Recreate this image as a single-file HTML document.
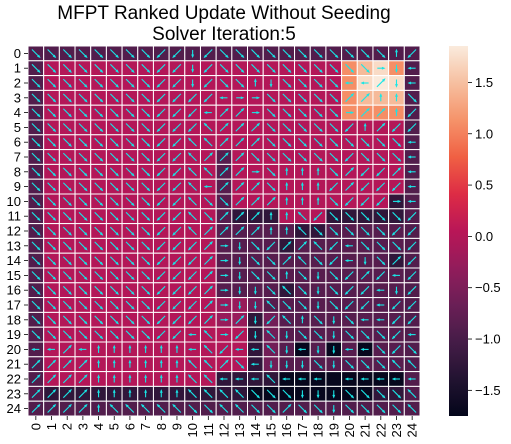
<!DOCTYPE html>
<html><head><meta charset="utf-8"><style>
html,body{margin:0;padding:0;background:#fff;}
svg{display:block;font-family:"Liberation Sans","DejaVu Sans",sans-serif;}
</style></head><body>
<svg id="chart" width="511" height="444">
<text x="224" y="19" font-size="19" text-anchor="middle">MFPT Ranked Update Without Seeding</text>
<text x="224" y="40" font-size="19" text-anchor="middle">Solver Iteration:5</text>
<g id="cells"></g>
<g id="arrows"></g>
<g id="yticks"></g>
<g id="xticks"></g>
<g id="cbar"></g>
</svg>
<script>
// value codes per cell (rows 0..24)
const valueRows = [
"DDDDDDDDDDDDDDDDDDDDDDDDD",
"DMMMMMMMMMMMMMMMMMMMOPLOD",
"DMMMMMMMMMMMMMMMMMMMOLWLD",
"DMMMMMMMMMMMMMMMMMMMOPPPD",
"DMMMMMMMMMMMMMMMMMMMOOOOD",
"DMMMMMMMMMMMMMMMMMMMMMMMD",
"DMMMMMMMMMMMMMMMMMMMMMMMD",
"DMMMMMMMMMMMpMMMMMMMMMMMD",
"DMMMMMMMMMMMpMMMMMMMMMMMD",
"DMMMMMMMMMMMpMMMMMMMMMMMD",
"DMMMMMMMMMMMpMMMMMMMMMMdD",
"DMMMMMMMMMMMpdddMMMdddddD",
"DMMMMMMMMMMMpppppddpppppD",
"DMMMMMMMMMMMppppdpppppppD",
"DMMMMMMMMMMMpppppppppppdD",
"DMMMMMMMMMMMppppppppppppD",
"DMMMMMMMMMMMppppdpppppppD",
"DMMMMMMMMMMMmmqpppppppppD",
"DMMMMMMMMMMMmmdqppppppppD",
"DMMMMMMMMMMMMMdqppppppppD",
"DMMMMMMMMMMMMMdqpKpKpKppD",
"DMMMMMMMMMMMMMdqppppppppD",
"DMMMMMMMMMMMddddKKKKKKKKD",
"DdddddddddddddKKKKKKKKddD",
"DDDDDDDDDDDDDDDDDDDDDDDDD"
];
const valueCodes = {D:-0.9,d:-1.25,K:-1.7,p:-0.85,q:-0.6,m:-0.25,M:0.0,O:1.1,P:1.45,L:1.72,W:1.85};
// arrow directions, numpad style (8 up, 2 down, 4 left, 6 right, 7/9/1/3 diagonals, 0 none)
const dirRows = [
"3333333311213333333333381",
"3333333311213333333333624",
"3333333311213382333344924",
"3333333311114663333399883",
"3333333311149963333369981",
"3333333311179993333318911",
"3333333311779993333333334",
"3333333311799933333313334",
"3333333311779963888391194",
"3333333311749993888191114",
"3333333311733999888311164",
"3333333311739998871333331",
"3333333311799998873333311",
"3333333311196231997143331",
"3333333311196233973142391",
"3333333311196233832319141",
"3333333311196223732311421",
"3333333311196227332311411",
"3333333311196921783234411",
"3333333311476127233233314",
"4494888888471447242244313",
"9999888888779342223233377",
"9999888888774447444044444",
"9999888888777733322233337",
"9999877777337733933233337"
];
const cbTicks = [1.5,1.0,0.5,0.0,-0.5,-1.0,-1.5];
const vmin=-1.75, vmax=1.855;
const X0=28, Y0=46, W=392, H=370, N=25, cw=W/N, ch=H/N;
const stops=[[0,"#03051a"],[0.1,"#221331"],[0.2,"#451c47"],[0.3,"#6a1f56"],[0.4,"#921c5b"],[0.5,"#b91657"],[0.6,"#dd2c45"],[0.7,"#f06043"],[0.8,"#f5936a"],[0.9,"#f6bfa0"],[1,"#faebdd"]];
function hex(h){return [1,3,5].map(i=>parseInt(h.substr(i,2),16));}
function color(v){let t=(v-vmin)/(vmax-vmin);t=Math.max(0,Math.min(1,t));
 for(let i=1;i<stops.length;i++){if(t<=stops[i][0]){const a=stops[i-1],b=stops[i];const f=(t-a[0])/(b[0]-a[0]);const ca=hex(a[1]),cb=hex(b[1]);return "rgb("+ca.map((c,k)=>Math.round(c+(cb[k]-c)*f)).join(",")+")";}}return stops[10][1];}
const xs=c=>X0+c*cw, ys=r=>Y0+r*ch;
const NS="http://www.w3.org/2000/svg";
function mk(t,a,p){const e=document.createElementNS(NS,t);for(const k in a)e.setAttribute(k,a[k]);p.appendChild(e);return e;}
const gC=document.getElementById('cells'),gA=document.getElementById('arrows');
const dv={"8":[0,-1],"2":[0,1],"4":[-1,0],"6":[1,0],"7":[-1,-1],"9":[1,-1],"1":[-1,1],"3":[1,1]};
for(let r=0;r<N;r++){const vr=valueRows[r],dr=dirRows[r];
 for(let c=0;c<N;c++){const code=(c===N-1)?vr[vr.length-1]:vr[Math.min(c,vr.length-1)];const v=valueCodes[code]??-0.85;
  const rc=mk('rect',{x:xs(c),y:ys(r),width:cw,height:ch,fill:color(v),stroke:"#fff","stroke-width":1},gC);
  
  
  const d=dv[dr[c]];if(!d)continue;
  const cx=xs(c)+cw/2,cy=ys(r)+ch/2;let ux=d[0],uy=d[1];const L=Math.hypot(ux,uy);ux/=L;uy/=L;
  const len=dr[c]=="8"||dr[c]=="2"||dr[c]=="4"||dr[c]=="6"?7:11;
  const x1=cx-ux*len/2,y1=cy-uy*len/2,x2=cx+ux*len/2,y2=cy+uy*len/2;
  const g=mk('g',{},gA);
  
  
  mk('line',{x1:x1,y1:y1,x2:x2,y2:y2,stroke:"#19e6e6","stroke-width":1.1},g);
  const px=-uy,py=ux,hs=2.4;
  mk('polygon',{points:`${x2+ux*1.2},${y2+uy*1.2} ${x2-ux*hs+px*hs*0.6},${y2-uy*hs+py*hs*0.6} ${x2-ux*hs-px*hs*0.6},${y2-uy*hs-py*hs*0.6}`,fill:"#19e6e6"},g);
 }}
const gY=document.getElementById('yticks'),gX=document.getElementById('xticks');
for(let i=0;i<N;i++){
 const y=ys(i)+ch/2;
 mk('line',{x1:X0-4,y1:y,x2:X0,y2:y,stroke:"#000","stroke-width":0.8},gY);
 const t=mk('text',{x:X0-7,y:y+4.5,"font-size":13,"text-anchor":"end"},gY);t.textContent=i;
 
 
 const x=xs(i)+cw/2;
 mk('line',{x1:x,y1:Y0+H,x2:x,y2:Y0+H+4,stroke:"#000","stroke-width":0.8},gX);
 const tx=mk('text',{x:x+4.5,y:Y0+H+7,"font-size":13,"text-anchor":"end",transform:`rotate(-90 ${x+4.5} ${Y0+H+7})`},gX);tx.textContent=i;
 
 
}
const gB=document.getElementById('cbar');const CX=449,CW=19,CT=46,CB=416;
const defs=mk('defs',{},gB);const lg=mk('linearGradient',{id:"cg",x1:0,y1:1,x2:0,y2:0},defs);
for(let i=0;i<=40;i++){const t=i/40;mk('stop',{offset:t,"stop-color":color(vmin+t*(vmax-vmin))},lg);}
const cbr=mk('rect',{x:CX,y:CT,width:CW,height:CB-CT,fill:"url(#cg)"},gB);


const cy=v=>CB-(v-vmin)/(vmax-vmin)*(CB-CT);
cbTicks.forEach(v=>{const y=cy(v);mk('line',{x1:CX+CW,y1:y,x2:CX+CW+4,y2:y,stroke:"#000","stroke-width":0.8},gB);
 const t=mk('text',{x:CX+CW+7,y:y+4.5,"font-size":13},gB);t.textContent=v<0?"\u2212"+Math.abs(v).toFixed(1):v.toFixed(1);
 
 });
</script>
</body></html>
